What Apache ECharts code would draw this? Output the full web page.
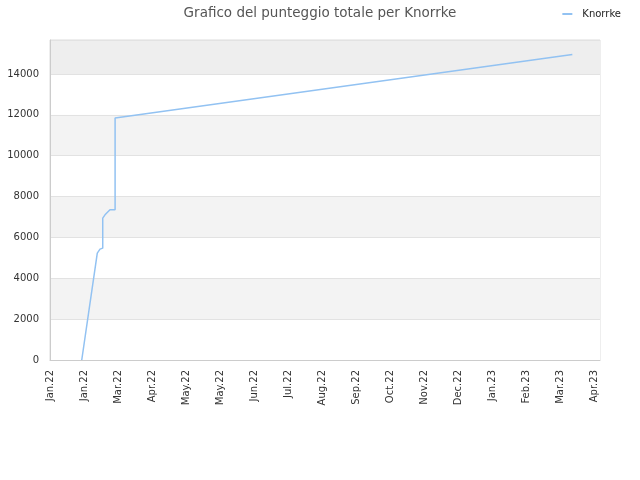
<!DOCTYPE html>
<html>
<head>
<meta charset="utf-8">
<script src="https://cdn.jsdelivr.net/npm/echarts@6/dist/echarts.min.js"></script>
<style>html,body{margin:0;padding:0;background:#fff}#c{width:640px;height:480px}</style>
</head>
<body>
<div id="c"></div>
<script>
// x values: days since 2022-01-01
var seriesName = 'Knorrke';
var dayOffsets = [28, 41.7, 44.1, 46.5, 46.5, 48.5, 52.9, 57.4, 57.4, 58.8, 460.6];
var scores =     [0, 5228, 5424, 5473, 6943, 7104, 7349, 7349, 11842, 11891, 14950];
var monthNames = ['Jan','Feb','Mar','Apr','May','Jun','Jul','Aug','Sep','Oct','Nov','Dec'];

var points = dayOffsets.map(function (d, i) { return [d, scores[i]]; });

function dayLabel(v) {
  var t = new Date(Date.UTC(2022, 0, 1) + v * 86400000);
  var y = String(t.getUTCFullYear()).slice(2);
  return monthNames[t.getUTCMonth()] + '.' + y;
}

var chart = echarts.init(document.getElementById('c'));
chart.setOption({
  animation: false,
  title: {
    text: 'Grafico del punteggio totale per Knorrke',
    left: 'center', top: 1,
    textStyle: { fontFamily: 'DejaVu Sans', fontSize: 13.5, fontWeight: 'normal', color: '#555' }
  },
  legend: {
    right: 14, top: 4,
    itemWidth: 10, itemHeight: 2, icon: 'rect',
    textStyle: { fontFamily: 'DejaVu Sans', fontSize: 10, color: '#222', padding: [0, 0, 0, 5] },
    data: [seriesName]
  },
  grid: { left: 50, right: 40, top: 40, bottom: 120, show: true, borderColor: '#ddd', borderWidth: 1, backgroundColor: 'transparent' },
  xAxis: {
    type: 'value', min: 0, max: 485, interval: 30,
    axisLine: { lineStyle: { color: '#ccc' } },
    axisTick: { show: false },
    splitLine: { show: false },
    axisLabel: {
      rotate: 90, margin: 10, showMaxLabel: false,
      fontFamily: 'DejaVu Sans', fontSize: 10, color: '#333',
      formatter: dayLabel
    }
  },
  yAxis: {
    type: 'value', min: 0, max: 15660, interval: 2000,
    axisLine: { show: true, lineStyle: { color: '#ccc' } },
    axisTick: { show: false },
    splitLine: { lineStyle: { color: '#e2e2e2' } },
    splitArea: { show: true, areaStyle: { color: ['#ffffff', '#f3f3f3', '#ffffff', '#f3f3f3', '#ffffff', '#f3f3f3', '#ffffff', '#eeeeee'] } },
    axisLabel: { margin: 11, showMaxLabel: false, fontFamily: 'DejaVu Sans', fontSize: 10, color: '#333',
      formatter: function (v) { return String(v); } }
  },
  series: [{
    name: seriesName,
    type: 'line',
    data: points,
    showSymbol: false,
    symbol: 'none',
    lineStyle: { color: '#92c2f2', width: 1.5 },
    itemStyle: { color: '#92c2f2' }
  }]
});
</script>
</body>
</html>
